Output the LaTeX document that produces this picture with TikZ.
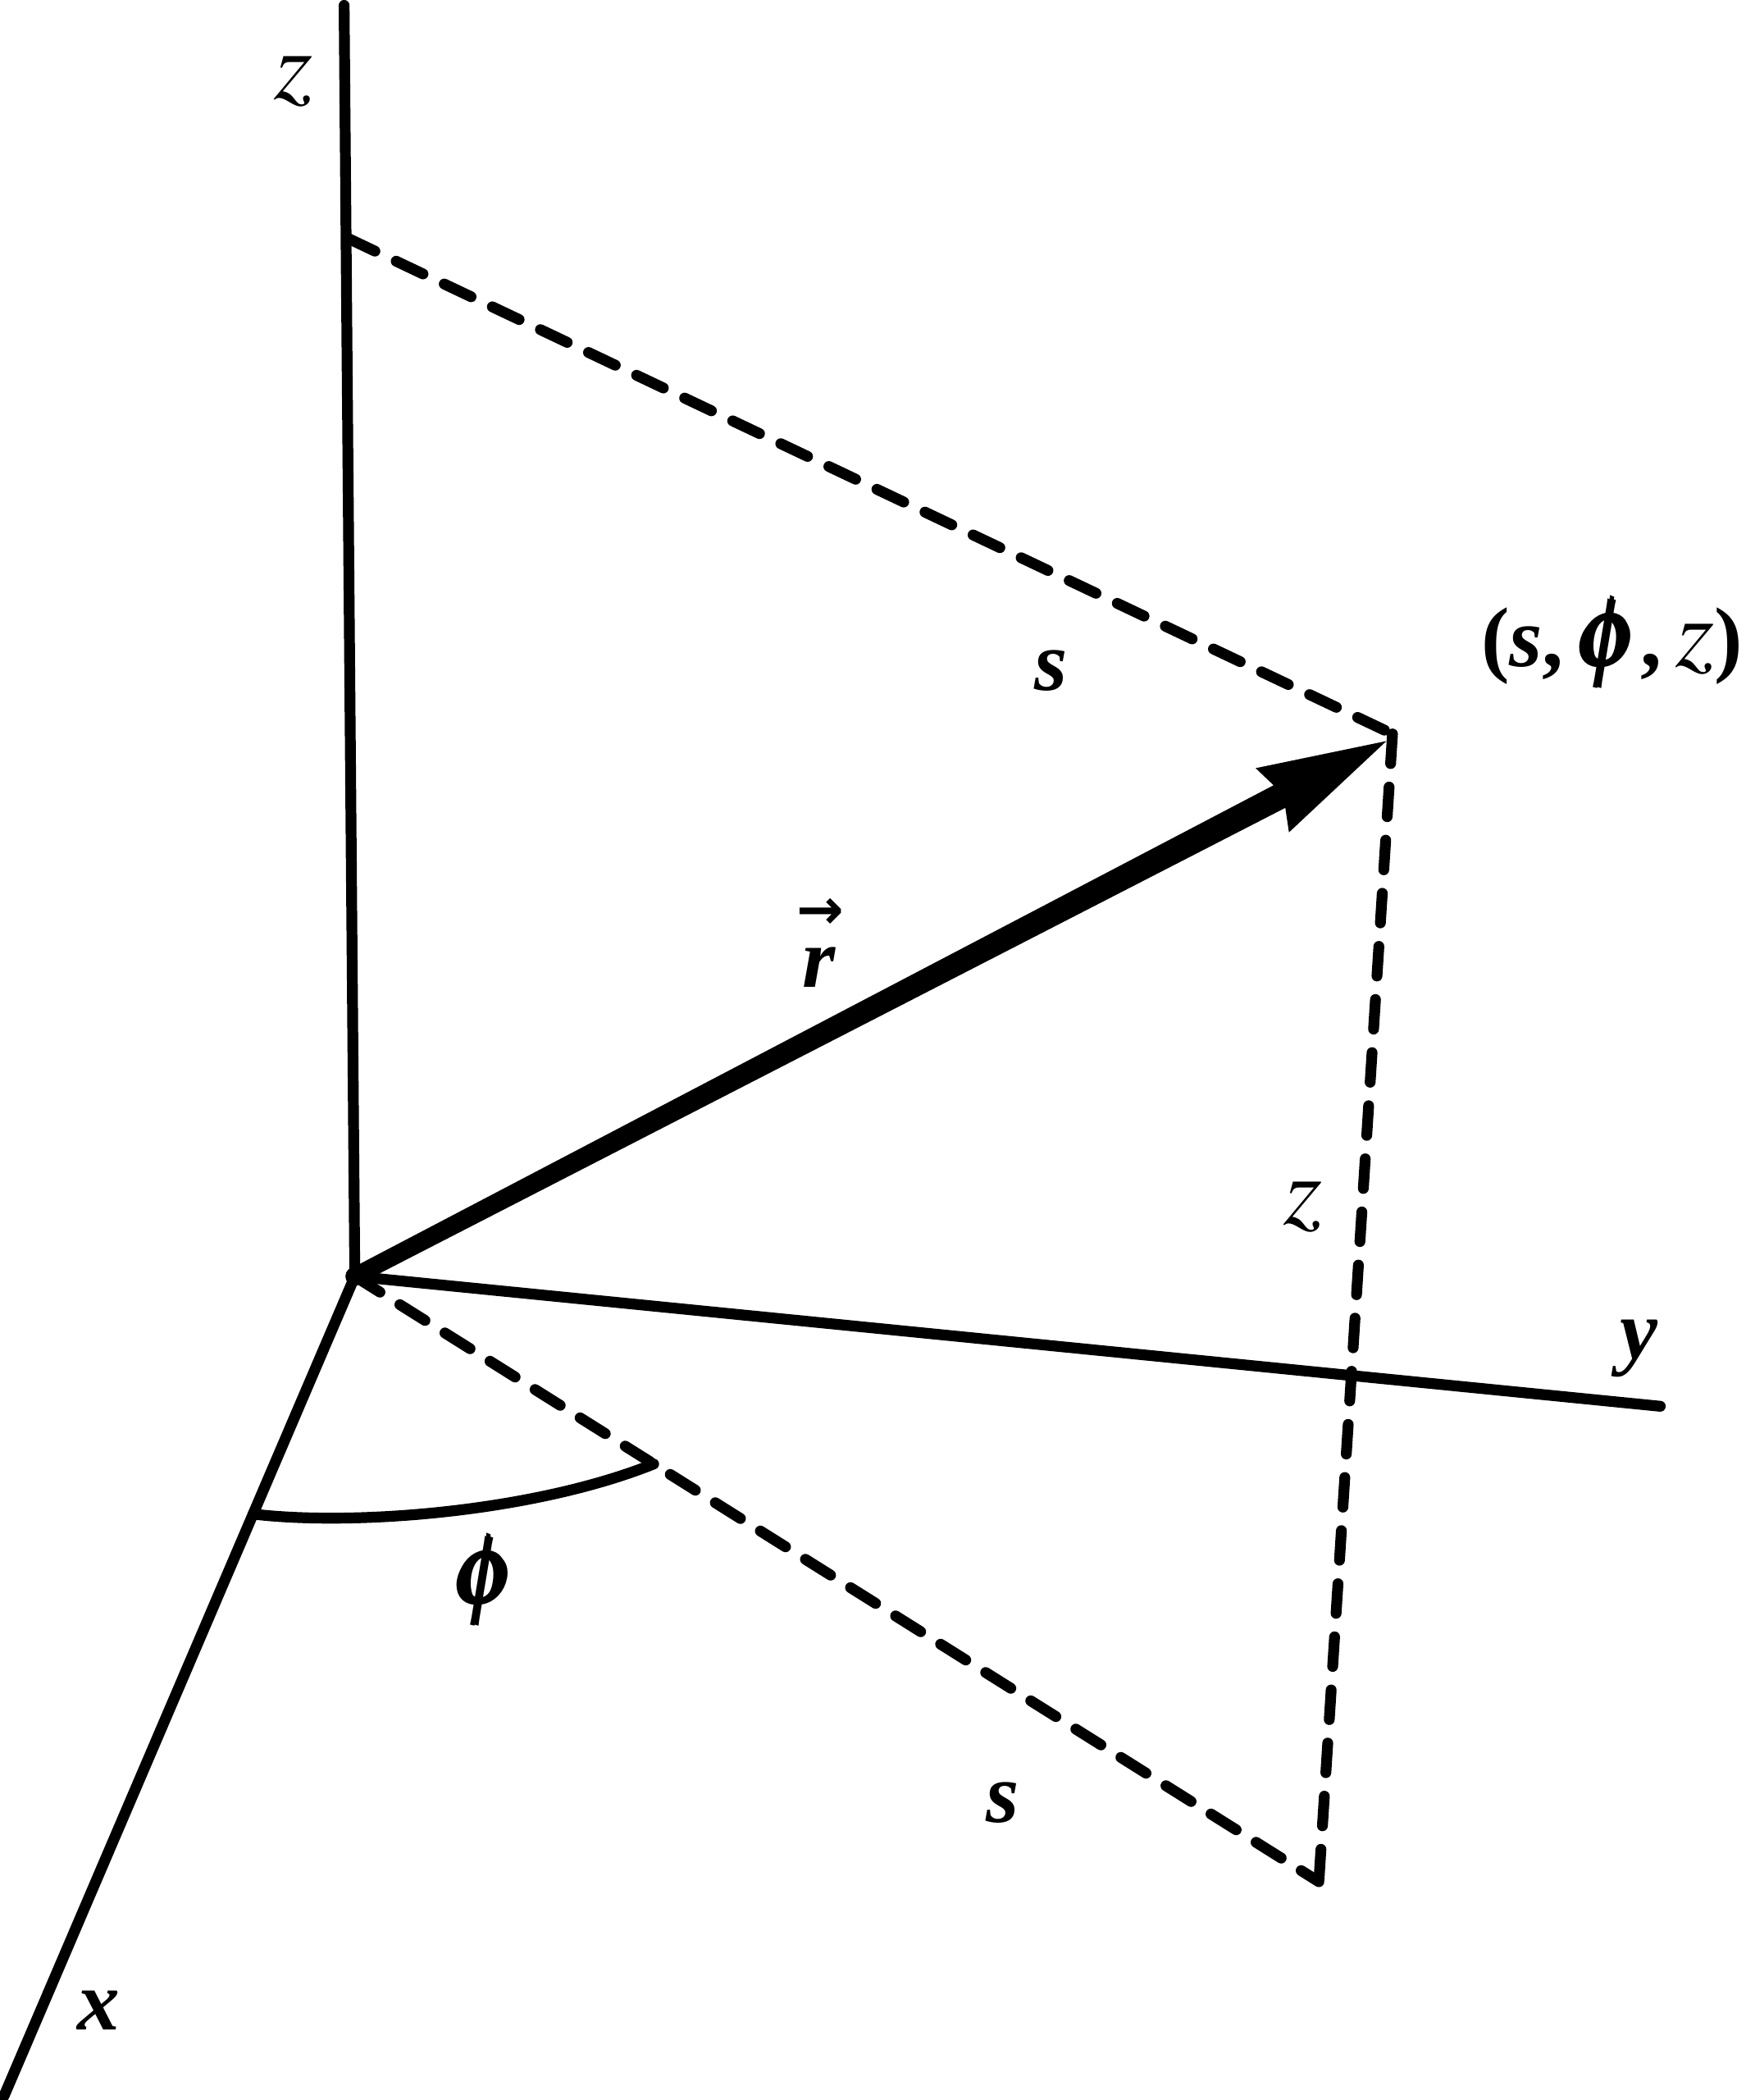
\documentclass[tikz,border=0pt]{standalone}
\usepackage{mathptmx}
\usepackage{amsbsy}
\usepackage{fontspec}
\setmainfont{Liberation Serif}
\newfontfamily\arrfont{DejaVu Sans}
\usetikzlibrary{calc}
\newcommand{\bphi}{{\fontsize{21}{21}\selectfont$\pmb{\phi}$}}
\newcommand{\itz}{{\fontsize{21}{21}\selectfont$z$}}
\begin{document}
\begin{tikzpicture}[x=0.01cm, y=-0.01cm,
  axis/.style={line width=2.3pt, line cap=round},
  guide/.style={line width=2.3pt, line cap=round, dash pattern=on 6.3pt off 5pt},
  lbl/.style={font=\fontsize{18}{20}\selectfont, inner sep=0pt}]
\useasboundingbox (0,0) rectangle (1304,1568);

\coordinate (O) at (265,953);
\coordinate (ztop) at (257,4);
\coordinate (zs) at (260,178);
\coordinate (P) at (1040,548);
\coordinate (Q) at (985,1405);
\coordinate (yend) at (1240,1050);
\coordinate (xend) at (3,1565);
\coordinate (phiA) at ($(O)!0.29!(xend)$);
\coordinate (phiB) at ($(O)!0.31!(Q)$);

% axes
\draw[axis] (O) -- (ztop);
\draw[axis] (O) -- (yend);
\draw[axis] (O) -- (xend);

% projections
\draw[guide] (zs) -- (P);
\draw[guide] (P) -- (Q);
\draw[guide] (O) -- (Q);

% angle
\draw[axis] (phiA) .. controls +(75,9) and +(-90,36) .. (phiB);

% position vector
\fill (O) circle (2pt);
\begin{scope}[shift={(O)}, rotate=27.42]
\fill (0,-6.5) -- (778,-9.5) -- (772,-27) -- (868,0) -- (772,27) -- (778,9.5) -- (0,6.5) -- cycle;
\end{scope}

% labels
\node[lbl] (zlab) at (219,61) {\itz};
\node[lbl] (ylab) at (1224,1007) {\textbf{\textit{y}}};
\node[lbl] (xlab) at (74,1501) {\textbf{\textit{x}}};
\node[lbl] (stop) at (785,501) {\textbf{\textit{s}}};
\node[lbl] (sbot) at (749,1346) {\textbf{\textit{s}}};
\node[lbl] (zmid) at (973,901) {\itz};
\node[lbl] (philab) at (363,1180) {\bphi};
\node[lbl] (rlab) at (612,722) {\textbf{\textit{r}}};
\node[inner sep=0pt, font=\arrfont\bfseries\fontsize{12}{12}\selectfont] (rarrow) at (613,682) {→};
\node[lbl, anchor=east] (point) at (1302,480) {\textbf{(\textit{s},\,}\bphi\textbf{,\,}\itz\textbf{)}};
\end{tikzpicture}
\end{document}
